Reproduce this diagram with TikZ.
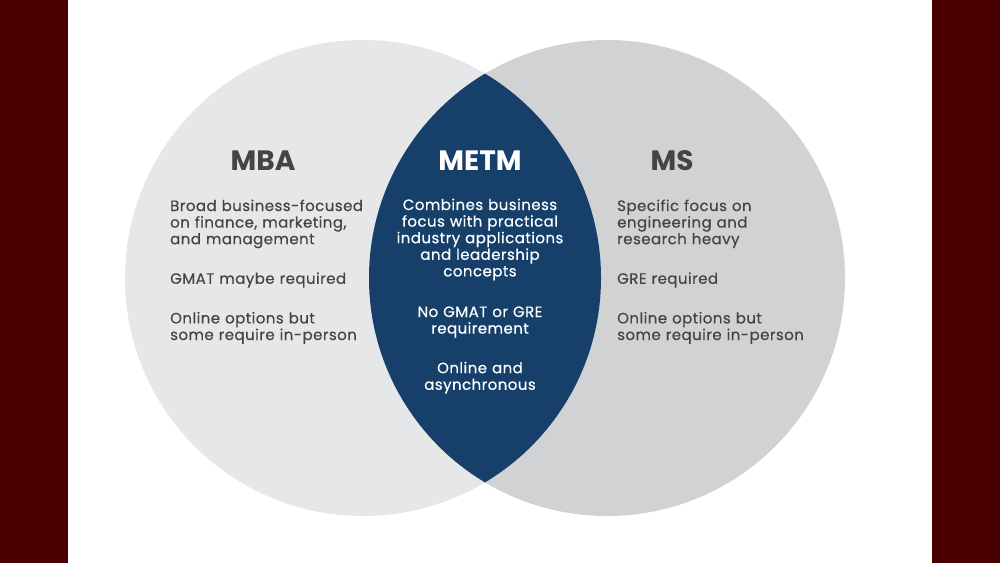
\documentclass[tikz,border=0pt]{standalone}
\usepackage{fontspec}
\setmainfont{Poppins}
\newfontfamily\bodyfont[LetterSpace=3,FakeBold=0.4]{Poppins}
\definecolor{maroon}{HTML}{4A0000}
\definecolor{mbagray}{HTML}{E6E7E8}
\definecolor{msgray}{HTML}{D1D2D4}
\definecolor{navy}{HTML}{163F6A}
\definecolor{ink}{HTML}{444446}

\begin{document}
\begin{tikzpicture}[x=1pt,y=-1pt,
  head/.style={font=\fontsize{28}{30}\selectfont\bfseries,text=ink,inner sep=0pt,anchor=base},
  body/.style={font=\bodyfont\fontsize{15}{16.6}\selectfont,text=ink,align=left,text width=215pt,inner sep=0pt,anchor=base west},
  lens/.style={body,text=white,align=center,text width=195pt,anchor=base}
]
  \useasboundingbox (0,0) rectangle (1000,563);
  % side bars
  \fill[maroon] (0,0) rectangle (68,563);
  \fill[maroon] (932,0) rectangle (1000,563);
  % circles and the overlap
  \fill[mbagray] (363,278) circle[radius=238pt];
  \fill[msgray] (607,278) circle[radius=238pt];
  \begin{scope}
    \clip (363,278) circle[radius=238pt];
    \fill[navy] (607,278) circle[radius=238pt];
  \end{scope}
  % headings
  \node[head] (mba) at (263,170) {MBA};
  \node[head,text=white] (metm) at (480,170) {METM};
  \node[head] (ms) at (672,170) {MS};
  % texts
  \node[body] (mbatext) at (170,211) {Broad business-focused\\on finance, marketing,\\and management\\[23pt]GMAT maybe required\\[23pt]Online options but\\some require in-person};
  \node[lens] (metmtext) at (480,210) {Combines business\\focus with practical\\industry applications\\and leadership\\concepts\\[24pt]No GMAT or GRE\\requirement\\[23pt]Online and\\asynchronous};
  \node[body] (mstext) at (617,211) {Specific focus on\\engineering and\\research heavy\\[23pt]GRE required\\[23pt]Online options but\\some require in-person};
\end{tikzpicture}
\end{document}
